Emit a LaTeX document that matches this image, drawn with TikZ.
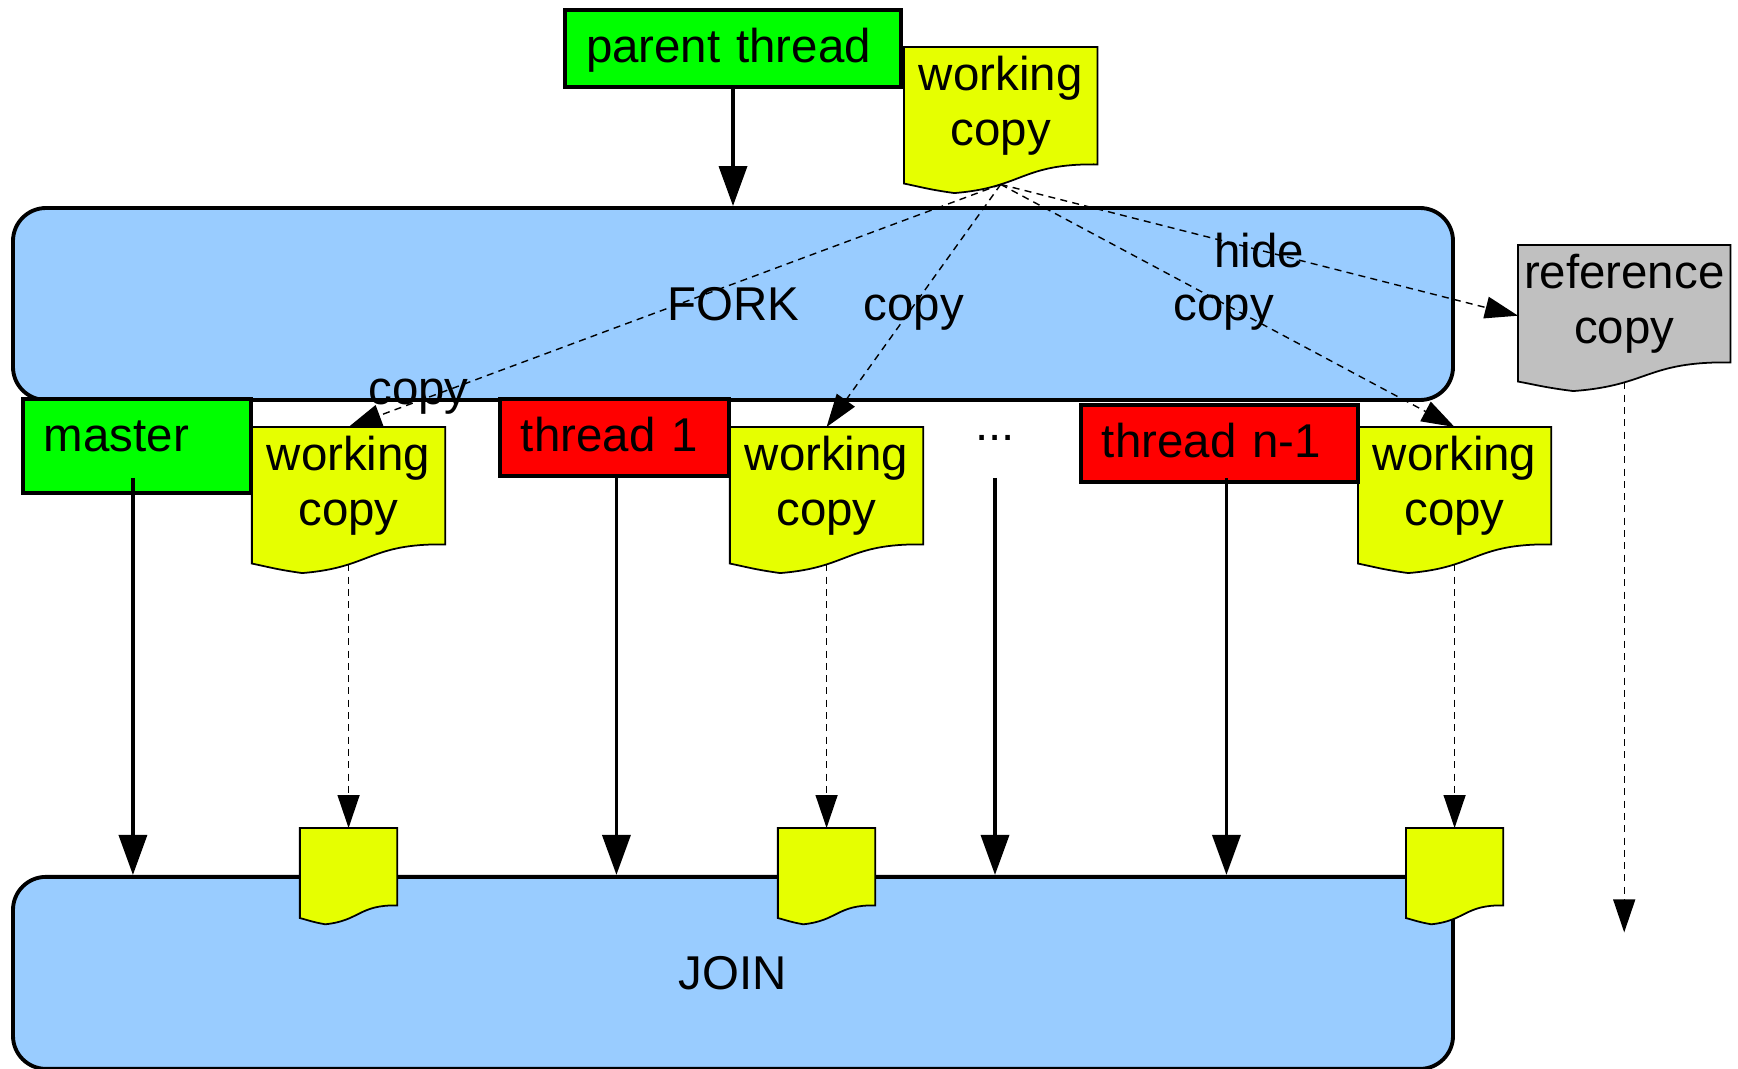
\documentclass[tikz,border=0pt]{standalone}
\usepackage{fontspec}
\setmainfont{Liberation Sans}
\usetikzlibrary{arrows.meta, positioning, calc, backgrounds}
\definecolor{PhaseBlue}{HTML}{99CCFF}
\definecolor{MasterGreen}{HTML}{00FF00}
\definecolor{ThreadRed}{HTML}{FF0000}
\definecolor{CopyYellow}{HTML}{E6FF00}
\definecolor{RefGray}{HTML}{C0C0C0}
\tikzset{
  phase/.style={draw, line width=1.1pt, rounded corners=0.33cm, fill=PhaseBlue, minimum width=14.4cm, minimum height=1.92cm},
  thread/.style={draw, line width=1.1pt, align=left, inner xsep=0.21cm, inner ysep=0.145cm, text height=0.38cm, text depth=0.1cm},
  doc/.style={align=center, inner sep=0pt, minimum width=1.92cm, minimum height=1.16cm},
  smalldoc/.style={inner sep=0pt, minimum width=0.96cm, minimum height=0.76cm},
  arrow/.style={-{Triangle[length=0.4cm, width=0.28cm]}, line width=1pt},
  copyarrow/.style={-{Triangle[length=0.33cm, width=0.22cm]}, line width=0.4pt, dash pattern=on 2pt off 1.5pt},
  lbl/.style={inner sep=0pt}
}
% wavy document outline behind a doc node
\newcommand{\docoutline}[2]{%
  \begin{scope}[on background layer,
      x={($(#1.north east)-(#1.north west)$)}, y={($(#1.south west)-(#1.north west)$)},
      shift={(#1.north west)}]
    \filldraw[fill=#2, draw=black, line width=0.5pt]
      (0,0) -- (1,0) -- (1,1) .. controls (.604,.991) and (.618,1.197) .. (.26,1.244)
      .. controls (.132,1.215) and (.086,1.192) .. (0,1.163) -- cycle;
  \end{scope}}

\begin{document}
\begin{tikzpicture}[font=\fontsize{13.5pt}{15.4pt}\selectfont]
\useasboundingbox (0,0) rectangle (17.38,-10.68);

\begin{scope}[on background layer]
  \node[phase] (fork) at (7.33,-3.04) {FORK};
  \node[phase, below=4.73cm of fork] (join) {JOIN};
\end{scope}

\node[thread, fill=MasterGreen, text width=2.94cm, above=1.17cm of fork] (parent) {parent thread};
\node[doc, anchor=north west] (topwc) at (9.04,-0.47) {working\\copy};

\node[thread, fill=MasterGreen, text width=1.86cm, text depth=0.27cm, anchor=north west] (master) at (0.21,-3.97) {master};
\node[thread, fill=ThreadRed, text width=1.87cm, anchor=north west] (thread1) at (4.98,-3.97) {thread 1};
\node[thread, fill=ThreadRed, text width=2.35cm, anchor=north west] (threadn) at (10.79,-4.03) {thread n-1};
\node[anchor=base] (dots) at (9.95,-4.40) {...};

\node[doc, below right=0.3cm and -0.01cm of master.north east] (wc1) {working\\copy};
\node[doc, below right=0.3cm and -0.01cm of thread1.north east] (wc2) {working\\copy};
\node[doc, below right=0.24cm and -0.02cm of threadn.north east] (wc3) {working\\copy};
\node[doc, minimum width=2.11cm, anchor=north west] (refcopy) at (15.18,-2.45) {reference\\copy};

\coordinate (jtop) at (0,-8.28);
\node[smalldoc, anchor=north] (jd1) at (wc1.north |- jtop) {};
\node[smalldoc, anchor=north] (jd2) at (wc2.north |- jtop) {};
\node[smalldoc, anchor=north] (jd3) at (wc3.north |- jtop) {};

\docoutline{topwc}{CopyYellow}
\docoutline{wc1}{CopyYellow}
\docoutline{wc2}{CopyYellow}
\docoutline{wc3}{CopyYellow}
\docoutline{refcopy}{RefGray}
\docoutline{jd1}{CopyYellow}
\docoutline{jd2}{CopyYellow}
\docoutline{jd3}{CopyYellow}

% control flow
\draw[arrow] (parent) -- (fork);
\draw[arrow] ([xshift=-0.04cm]master.center |- thread1.south) -- ([xshift=-0.04cm]master.center |- join.north);
\draw[arrow] ([xshift=0.02cm]thread1.south) -- ([xshift=0.02cm]thread1.center |- join.north);
\draw[arrow] (dots |- thread1.south) -- (dots |- join.north);
\draw[arrow] ([xshift=0.07cm]threadn.center |- thread1.south) -- ([xshift=0.07cm]threadn.center |- join.north);

% data copies
\coordinate (src) at ([yshift=-0.2cm]topwc.south);
\draw[copyarrow] (src) -- node[lbl, pos=.85, xshift=-0.28cm, yshift=-0.06cm] {copy} (wc1.north);
\draw[copyarrow] (src) -- node[lbl, pos=.5, yshift=-0.07cm] {copy} (wc2.north);
\draw[copyarrow] (src) -- node[lbl, pos=.5] {hide} ([yshift=-0.12cm]refcopy.west);
\draw[copyarrow] (src) -- node[lbl, pos=.5, xshift=-0.04cm, yshift=-0.07cm] {copy} (wc3.north);

\draw[copyarrow] ([yshift=-0.2cm]wc1.south) -- (jd1.north);
\draw[copyarrow] ([yshift=-0.2cm]wc2.south) -- (jd2.north);
\draw[copyarrow] ([yshift=-0.2cm]wc3.south) -- (jd3.north);
\coordinate (refend) at ([yshift=-5.7cm]refcopy.south);
\draw[copyarrow] ([yshift=-0.2cm]refcopy.south) -- (refend);
\end{tikzpicture}
\end{document}
